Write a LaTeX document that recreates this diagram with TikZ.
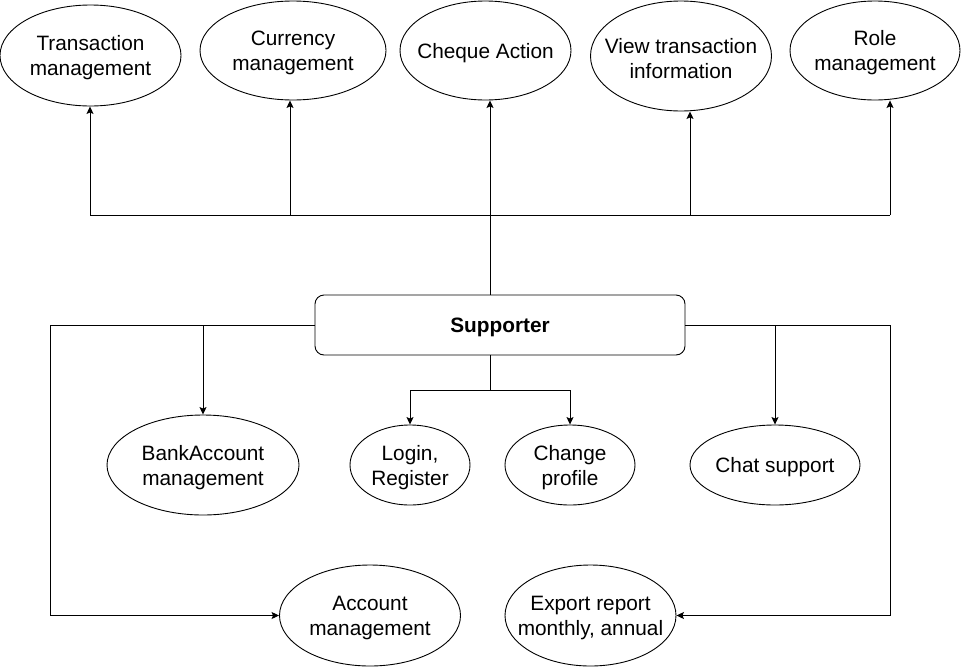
\documentclass[tikz,border=0pt]{standalone}
\usepackage{fontspec}
\setmainfont{Liberation Sans}
\usetikzlibrary{shapes.geometric,arrows.meta}
\begin{document}
\begin{tikzpicture}[x=1pt,y=-1pt,line width=0.9pt,
  ell/.style={draw, ellipse, inner sep=0pt},
  txt/.style={align=center, inner sep=0pt, font=\fontsize{20.8}{25}\selectfont},
  supbox/.style={draw, rounded corners=9pt, minimum width=370pt, minimum height=60pt},
  arr/.style={-{Stealth[length=7.5pt,width=7pt,inset=1.5pt]}}]
\useasboundingbox (0,0) rectangle (961,667);

% top ellipses
\node[ell, minimum width=181pt, minimum height=101pt] (trans) at (90.5,55.5) {};
\node[ell, minimum width=186pt, minimum height=99pt] (curr) at (293,50.5) {};
\node[ell, minimum width=171pt, minimum height=99pt] (chq) at (485.5,50.5) {};
\node[ell, minimum width=181pt, minimum height=110pt] (view) at (681,56) {};
\node[ell, minimum width=170pt, minimum height=99pt] (role) at (875,50.5) {};
\node[txt] (transT) at ([yshift=-2.5pt]trans.center) {Transaction\\management};
\node[txt] (currT) at ([yshift=-2.5pt]curr.center) {Currency\\management};
\node[txt] (chqT) at ([yshift=-2.5pt]chq.center) {Cheque Action};
\node[txt] (viewT) at ([yshift=-2.5pt]view.center) {View transaction\\information};
\node[txt] (roleT) at ([yshift=-2.5pt]role.center) {Role\\management};

% supporter
\node[supbox] (sup) at (500,325) {};
\node[txt, font=\fontsize{20.8}{25}\selectfont\bfseries] (supT) at ([yshift=-2.5pt]sup.center) {Supporter};

% middle ellipses
\node[ell, minimum width=192pt, minimum height=100pt] (bank) at (203,465) {};
\node[ell, minimum width=120pt, minimum height=80pt] (login) at (410,465) {};
\node[ell, minimum width=130pt, minimum height=80pt] (change) at (570,465) {};
\node[ell, minimum width=170pt, minimum height=80pt] (chat) at (775,465) {};
\node[txt] (bankT) at ([yshift=-2.5pt]bank.center) {BankAccount\\management};
\node[txt] (loginT) at ([yshift=-2.5pt]login.center) {Login,\\Register};
\node[txt] (changeT) at ([yshift=-2.5pt]change.center) {Change\\profile};
\node[txt] (chatT) at ([yshift=-2.5pt]chat.center) {Chat support};

% bottom ellipses
\node[ell, minimum width=181pt, minimum height=101pt] (acct) at (370,615.5) {};
\node[ell, minimum width=171pt, minimum height=101pt] (export) at (590.5,615.5) {};
\node[txt] (acctT) at ([yshift=-2.5pt]acct.center) {Account\\management};
\node[txt] (exportT) at ([yshift=-2.5pt]export.center) {Export report\\monthly, annual};

% top bus
\coordinate (b1) at (90,215);
\coordinate (b2) at (290,215);
\coordinate (b3) at (490,215);
\coordinate (b4) at (690,215);
\coordinate (b5) at (890,215);
\draw (sup.north -| b3) -- (b3);
\draw (b1) -- (b5);
\draw[arr] (b1) -- (b1 |- trans.south);
\draw[arr] (b2) -- (b2 |- curr.south);
\draw[arr] (b3) -- (b3 |- chq.south);
\draw[arr] (b4) -- (b4 |- view.south);
\draw[arr] (b5) -- (b5 |- role.south);

% left branch
\coordinate (l1) at (50,325);
\coordinate (lb) at (203,325);
\draw[arr] (sup.west) -- (l1) |- (acct.west);
\draw[arr] (lb) -- (bank.north);

% right branch
\coordinate (r1) at (890,325);
\coordinate (rb) at (775,325);
\draw[arr] (sup.east) -- (r1) |- (export.east);
\draw[arr] (rb) -- (chat.north);

% bottom branch
\coordinate (d1) at (490,390);
\draw (sup.south -| d1) -- (d1);
\draw[arr] (d1) -| (login.north);
\draw[arr] (d1) -| (change.north);
\end{tikzpicture}
\end{document}
